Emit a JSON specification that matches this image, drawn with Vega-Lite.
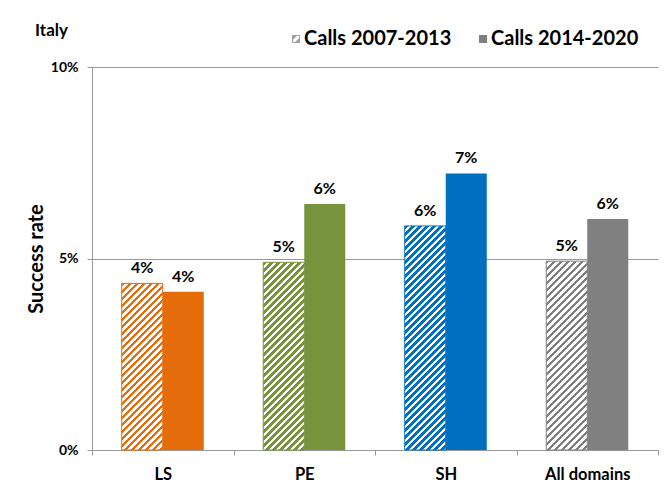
{
  "$schema": "https://vega.github.io/schema/vega-lite/v6.json",
  "width": 566,
  "height": 383,
  "autosize": {"type": "none"},
  "padding": {"left": 92, "top": 67, "right": 8, "bottom": 32},
  "background": "white",
  "config": {
    "font": "Lato",
    "view": {"stroke": null},
    "axis": {"labelFont": "Lato", "titleFont": "Lato"},
    "legend": {"labelFont": "Lato"}
  },
  "title": {"text": "Italy", "anchor": "start", "frame": "group", "fontSize": 17, "fontWeight": "bold", "color": "#000000", "font": "Lato", "dx": -57, "dy": 15},
  "data": {
    "values": [
      {"domain": "LS", "series": "Calls 2007-2013", "rate": 0.0435},
      {"domain": "LS", "series": "Calls 2014-2020", "rate": 0.0413},
      {"domain": "PE", "series": "Calls 2007-2013", "rate": 0.049},
      {"domain": "PE", "series": "Calls 2014-2020", "rate": 0.0642},
      {"domain": "SH", "series": "Calls 2007-2013", "rate": 0.0585},
      {"domain": "SH", "series": "Calls 2014-2020", "rate": 0.0722},
      {"domain": "All domains", "series": "Calls 2007-2013", "rate": 0.0493},
      {"domain": "All domains", "series": "Calls 2014-2020", "rate": 0.0603}
    ]
  },
  "encoding": {
    "x": {
      "field": "domain", "type": "nominal",
      "scale": {"domain": ["LS", "PE", "SH", "All domains"], "paddingInner": 0, "paddingOuter": 0},
      "axis": {"title": null, "labelAngle": 0, "labelFontSize": 16.5, "labelFontWeight": "bold", "labelColor": "#000000", "labelPadding": 11, "tickBand": "extent", "tickSize": 5, "tickColor": "#999999", "domainColor": "#999999"}
    },
    "xOffset": {
      "field": "series", "type": "nominal",
      "scale": {"domain": ["Calls 2007-2013", "Calls 2014-2020"], "paddingInner": 0, "paddingOuter": 0.7256}
    },
    "y": {
      "field": "rate", "type": "quantitative",
      "scale": {"domain": [0, 0.1], "nice": false},
      "axis": {"title": "Success rate", "values": [0, 0.05, 0.1], "format": ".0%", "grid": true, "gridColor": "#999999", "tickSize": 5, "tickColor": "#999999", "domainColor": "#999999", "labelFontSize": 14, "labelFontWeight": "bold", "labelColor": "#000000", "labelPadding": 9, "titleFontSize": 20, "titleFontWeight": "bold", "titleColor": "#000000", "titleX": -50, "titleY": 191.5, "titleBaseline": "alphabetic", "titleAlign": "center", "titleAngle": -90}
    }
  },
  "layer": [
    {
      "mark": {"type": "point", "filled": true, "opacity": 0, "size": 10, "yOffset": 20},
      "encoding": {
        "color": {
          "field": "series", "type": "nominal",
          "scale": {"domain": ["Calls 2007-2013", "Calls 2014-2020"], "range": ["#A0A0A0", "#7F7F7F"]},
          "legend": {
            "orient": "none", "legendX": 194, "legendY": -38, "direction": "horizontal", "title": null,
            "symbolType": "square", "symbolSize": 64, "labelFontSize": 20, "labelFontWeight": "bold", "labelColor": "#000000",
            "columnPadding": 21, "labelOffset": -2, "padding": 0, "symbolStrokeWidth": 0,
            "encode": {
              "symbols": {
                "update": {
                  "opacity": {"value": 1},
                  "shape": [
                    {"test": "datum.value === 'Calls 2007-2013'", "value": "M-1,-1H1V1H-1Z M-0.75,-0.75V0.75H0.75V-0.75Z M-1,-1L0.45,-1L-1,0.45Z M1,1L-0.45,1L1,-0.45Z"},
                    {"value": "square"}
                  ],
                  "fill": [
                    {"test": "datum.value === 'Calls 2007-2013'", "value": "#A0A0A0"},
                    {"value": "#7F7F7F"}
                  ],
                  "strokeWidth": {"value": 0}
                }
              }
            }
          }
        }
      }
    },
    {
      "transform": [{"filter": "datum.series === 'Calls 2014-2020'"}],
      "mark": {"type": "bar"},
      "encoding": {
        "fill": {
          "field": "domain", "type": "nominal",
          "scale": {"domain": ["LS", "PE", "SH", "All domains"], "range": ["#E46C0A", "#77933C", "#0070C0", "#808080"]},
          "legend": null
        }
      }
    },
    {
      "transform": [{"filter": "datum.series === 'Calls 2007-2013' && datum.domain === 'LS'"}],
      "mark": {"type": "bar", "stroke": "#E46C0A", "strokeWidth": 1, "fill": {"gradient": "linear", "x1": 0, "y1": 0, "x2": 0.390, "y2": 1.5847, "stops": [
        {"offset":0,"color":"#E46C0A"},{"offset":0.0125,"color":"#E46C0A"},{"offset":0.0125,"color":"#fff"},{"offset":0.025,"color":"#fff"},
        {"offset":0.025,"color":"#E46C0A"},{"offset":0.0375,"color":"#E46C0A"},{"offset":0.0375,"color":"#fff"},{"offset":0.05,"color":"#fff"},
        {"offset":0.05,"color":"#E46C0A"},{"offset":0.0625,"color":"#E46C0A"},{"offset":0.0625,"color":"#fff"},{"offset":0.075,"color":"#fff"},
        {"offset":0.075,"color":"#E46C0A"},{"offset":0.0875,"color":"#E46C0A"},{"offset":0.0875,"color":"#fff"},{"offset":0.1,"color":"#fff"},
        {"offset":0.1,"color":"#E46C0A"},{"offset":0.1125,"color":"#E46C0A"},{"offset":0.1125,"color":"#fff"},{"offset":0.125,"color":"#fff"},
        {"offset":0.125,"color":"#E46C0A"},{"offset":0.1375,"color":"#E46C0A"},{"offset":0.1375,"color":"#fff"},{"offset":0.15,"color":"#fff"},
        {"offset":0.15,"color":"#E46C0A"},{"offset":0.1625,"color":"#E46C0A"},{"offset":0.1625,"color":"#fff"},{"offset":0.175,"color":"#fff"},
        {"offset":0.175,"color":"#E46C0A"},{"offset":0.1875,"color":"#E46C0A"},{"offset":0.1875,"color":"#fff"},{"offset":0.2,"color":"#fff"},
        {"offset":0.2,"color":"#E46C0A"},{"offset":0.2125,"color":"#E46C0A"},{"offset":0.2125,"color":"#fff"},{"offset":0.225,"color":"#fff"},
        {"offset":0.225,"color":"#E46C0A"},{"offset":0.2375,"color":"#E46C0A"},{"offset":0.2375,"color":"#fff"},{"offset":0.25,"color":"#fff"},
        {"offset":0.25,"color":"#E46C0A"},{"offset":0.2625,"color":"#E46C0A"},{"offset":0.2625,"color":"#fff"},{"offset":0.275,"color":"#fff"},
        {"offset":0.275,"color":"#E46C0A"},{"offset":0.2875,"color":"#E46C0A"},{"offset":0.2875,"color":"#fff"},{"offset":0.3,"color":"#fff"},
        {"offset":0.3,"color":"#E46C0A"},{"offset":0.3125,"color":"#E46C0A"},{"offset":0.3125,"color":"#fff"},{"offset":0.325,"color":"#fff"},
        {"offset":0.325,"color":"#E46C0A"},{"offset":0.3375,"color":"#E46C0A"},{"offset":0.3375,"color":"#fff"},{"offset":0.35,"color":"#fff"},
        {"offset":0.35,"color":"#E46C0A"},{"offset":0.3625,"color":"#E46C0A"},{"offset":0.3625,"color":"#fff"},{"offset":0.375,"color":"#fff"},
        {"offset":0.375,"color":"#E46C0A"},{"offset":0.3875,"color":"#E46C0A"},{"offset":0.3875,"color":"#fff"},{"offset":0.4,"color":"#fff"},
        {"offset":0.4,"color":"#E46C0A"},{"offset":0.4125,"color":"#E46C0A"},{"offset":0.4125,"color":"#fff"},{"offset":0.425,"color":"#fff"},
        {"offset":0.425,"color":"#E46C0A"},{"offset":0.4375,"color":"#E46C0A"},{"offset":0.4375,"color":"#fff"},{"offset":0.45,"color":"#fff"},
        {"offset":0.45,"color":"#E46C0A"},{"offset":0.4625,"color":"#E46C0A"},{"offset":0.4625,"color":"#fff"},{"offset":0.475,"color":"#fff"},
        {"offset":0.475,"color":"#E46C0A"},{"offset":0.4875,"color":"#E46C0A"},{"offset":0.4875,"color":"#fff"},{"offset":0.5,"color":"#fff"},
        {"offset":0.5,"color":"#E46C0A"},{"offset":0.5125,"color":"#E46C0A"},{"offset":0.5125,"color":"#fff"},{"offset":0.525,"color":"#fff"},
        {"offset":0.525,"color":"#E46C0A"},{"offset":0.5375,"color":"#E46C0A"},{"offset":0.5375,"color":"#fff"},{"offset":0.55,"color":"#fff"},
        {"offset":0.55,"color":"#E46C0A"},{"offset":0.5625,"color":"#E46C0A"},{"offset":0.5625,"color":"#fff"},{"offset":0.575,"color":"#fff"},
        {"offset":0.575,"color":"#E46C0A"},{"offset":0.5875,"color":"#E46C0A"},{"offset":0.5875,"color":"#fff"},{"offset":0.6,"color":"#fff"},
        {"offset":0.6,"color":"#E46C0A"},{"offset":0.6125,"color":"#E46C0A"},{"offset":0.6125,"color":"#fff"},{"offset":0.625,"color":"#fff"},
        {"offset":0.625,"color":"#E46C0A"},{"offset":0.6375,"color":"#E46C0A"},{"offset":0.6375,"color":"#fff"},{"offset":0.65,"color":"#fff"},
        {"offset":0.65,"color":"#E46C0A"},{"offset":0.6625,"color":"#E46C0A"},{"offset":0.6625,"color":"#fff"},{"offset":0.675,"color":"#fff"},
        {"offset":0.675,"color":"#E46C0A"},{"offset":0.6875,"color":"#E46C0A"},{"offset":0.6875,"color":"#fff"},{"offset":0.7,"color":"#fff"},
        {"offset":0.7,"color":"#E46C0A"},{"offset":0.7125,"color":"#E46C0A"},{"offset":0.7125,"color":"#fff"},{"offset":0.725,"color":"#fff"},
        {"offset":0.725,"color":"#E46C0A"},{"offset":0.7375,"color":"#E46C0A"},{"offset":0.7375,"color":"#fff"},{"offset":0.75,"color":"#fff"},
        {"offset":0.75,"color":"#E46C0A"},{"offset":0.7625,"color":"#E46C0A"},{"offset":0.7625,"color":"#fff"},{"offset":0.775,"color":"#fff"}
      ]}}
    },
    {
      "transform": [{"filter": "datum.series === 'Calls 2007-2013' && datum.domain === 'PE'"}],
      "mark": {"type": "bar", "stroke": "#77933C", "strokeWidth": 1, "fill": {"gradient": "linear", "x1": 0, "y1": 0, "x2": 0.3110, "y2": 1.4238, "stops": [
        {"offset":0,"color":"#77933C"},{"offset":0.0125,"color":"#77933C"},{"offset":0.0125,"color":"#fff"},{"offset":0.025,"color":"#fff"},
        {"offset":0.025,"color":"#77933C"},{"offset":0.0375,"color":"#77933C"},{"offset":0.0375,"color":"#fff"},{"offset":0.05,"color":"#fff"},
        {"offset":0.05,"color":"#77933C"},{"offset":0.0625,"color":"#77933C"},{"offset":0.0625,"color":"#fff"},{"offset":0.075,"color":"#fff"},
        {"offset":0.075,"color":"#77933C"},{"offset":0.0875,"color":"#77933C"},{"offset":0.0875,"color":"#fff"},{"offset":0.1,"color":"#fff"},
        {"offset":0.1,"color":"#77933C"},{"offset":0.1125,"color":"#77933C"},{"offset":0.1125,"color":"#fff"},{"offset":0.125,"color":"#fff"},
        {"offset":0.125,"color":"#77933C"},{"offset":0.1375,"color":"#77933C"},{"offset":0.1375,"color":"#fff"},{"offset":0.15,"color":"#fff"},
        {"offset":0.15,"color":"#77933C"},{"offset":0.1625,"color":"#77933C"},{"offset":0.1625,"color":"#fff"},{"offset":0.175,"color":"#fff"},
        {"offset":0.175,"color":"#77933C"},{"offset":0.1875,"color":"#77933C"},{"offset":0.1875,"color":"#fff"},{"offset":0.2,"color":"#fff"},
        {"offset":0.2,"color":"#77933C"},{"offset":0.2125,"color":"#77933C"},{"offset":0.2125,"color":"#fff"},{"offset":0.225,"color":"#fff"},
        {"offset":0.225,"color":"#77933C"},{"offset":0.2375,"color":"#77933C"},{"offset":0.2375,"color":"#fff"},{"offset":0.25,"color":"#fff"},
        {"offset":0.25,"color":"#77933C"},{"offset":0.2625,"color":"#77933C"},{"offset":0.2625,"color":"#fff"},{"offset":0.275,"color":"#fff"},
        {"offset":0.275,"color":"#77933C"},{"offset":0.2875,"color":"#77933C"},{"offset":0.2875,"color":"#fff"},{"offset":0.3,"color":"#fff"},
        {"offset":0.3,"color":"#77933C"},{"offset":0.3125,"color":"#77933C"},{"offset":0.3125,"color":"#fff"},{"offset":0.325,"color":"#fff"},
        {"offset":0.325,"color":"#77933C"},{"offset":0.3375,"color":"#77933C"},{"offset":0.3375,"color":"#fff"},{"offset":0.35,"color":"#fff"},
        {"offset":0.35,"color":"#77933C"},{"offset":0.3625,"color":"#77933C"},{"offset":0.3625,"color":"#fff"},{"offset":0.375,"color":"#fff"},
        {"offset":0.375,"color":"#77933C"},{"offset":0.3875,"color":"#77933C"},{"offset":0.3875,"color":"#fff"},{"offset":0.4,"color":"#fff"},
        {"offset":0.4,"color":"#77933C"},{"offset":0.4125,"color":"#77933C"},{"offset":0.4125,"color":"#fff"},{"offset":0.425,"color":"#fff"},
        {"offset":0.425,"color":"#77933C"},{"offset":0.4375,"color":"#77933C"},{"offset":0.4375,"color":"#fff"},{"offset":0.45,"color":"#fff"},
        {"offset":0.45,"color":"#77933C"},{"offset":0.4625,"color":"#77933C"},{"offset":0.4625,"color":"#fff"},{"offset":0.475,"color":"#fff"},
        {"offset":0.475,"color":"#77933C"},{"offset":0.4875,"color":"#77933C"},{"offset":0.4875,"color":"#fff"},{"offset":0.5,"color":"#fff"},
        {"offset":0.5,"color":"#77933C"},{"offset":0.5125,"color":"#77933C"},{"offset":0.5125,"color":"#fff"},{"offset":0.525,"color":"#fff"},
        {"offset":0.525,"color":"#77933C"},{"offset":0.5375,"color":"#77933C"},{"offset":0.5375,"color":"#fff"},{"offset":0.55,"color":"#fff"},
        {"offset":0.55,"color":"#77933C"},{"offset":0.5625,"color":"#77933C"},{"offset":0.5625,"color":"#fff"},{"offset":0.575,"color":"#fff"},
        {"offset":0.575,"color":"#77933C"},{"offset":0.5875,"color":"#77933C"},{"offset":0.5875,"color":"#fff"},{"offset":0.6,"color":"#fff"},
        {"offset":0.6,"color":"#77933C"},{"offset":0.6125,"color":"#77933C"},{"offset":0.6125,"color":"#fff"},{"offset":0.625,"color":"#fff"},
        {"offset":0.625,"color":"#77933C"},{"offset":0.6375,"color":"#77933C"},{"offset":0.6375,"color":"#fff"},{"offset":0.65,"color":"#fff"},
        {"offset":0.65,"color":"#77933C"},{"offset":0.6625,"color":"#77933C"},{"offset":0.6625,"color":"#fff"},{"offset":0.675,"color":"#fff"},
        {"offset":0.675,"color":"#77933C"},{"offset":0.6875,"color":"#77933C"},{"offset":0.6875,"color":"#fff"},{"offset":0.7,"color":"#fff"},
        {"offset":0.7,"color":"#77933C"},{"offset":0.7125,"color":"#77933C"},{"offset":0.7125,"color":"#fff"},{"offset":0.725,"color":"#fff"},
        {"offset":0.725,"color":"#77933C"},{"offset":0.7375,"color":"#77933C"},{"offset":0.7375,"color":"#fff"},{"offset":0.75,"color":"#fff"},
        {"offset":0.75,"color":"#77933C"},{"offset":0.7625,"color":"#77933C"},{"offset":0.7625,"color":"#fff"},{"offset":0.775,"color":"#fff"},
        {"offset":0.775,"color":"#77933C"},{"offset":0.7875,"color":"#77933C"},{"offset":0.7875,"color":"#fff"},{"offset":0.8,"color":"#fff"},
        {"offset":0.8,"color":"#77933C"},{"offset":0.8125,"color":"#77933C"},{"offset":0.8125,"color":"#fff"},{"offset":0.825,"color":"#fff"},
        {"offset":0.825,"color":"#77933C"},{"offset":0.8375,"color":"#77933C"},{"offset":0.8375,"color":"#fff"},{"offset":0.85,"color":"#fff"}
      ]}}
    },
    {
      "transform": [{"filter": "datum.series === 'Calls 2007-2013' && datum.domain === 'SH'"}],
      "mark": {"type": "bar", "stroke": "#0070C0", "strokeWidth": 1, "fill": {"gradient": "linear", "x1": 0, "y1": 0, "x2": 0.2212, "y2": 1.2090, "stops": [
        {"offset":0,"color":"#0070C0"},{"offset":0.0125,"color":"#0070C0"},{"offset":0.0125,"color":"#fff"},{"offset":0.025,"color":"#fff"},
        {"offset":0.025,"color":"#0070C0"},{"offset":0.0375,"color":"#0070C0"},{"offset":0.0375,"color":"#fff"},{"offset":0.05,"color":"#fff"},
        {"offset":0.05,"color":"#0070C0"},{"offset":0.0625,"color":"#0070C0"},{"offset":0.0625,"color":"#fff"},{"offset":0.075,"color":"#fff"},
        {"offset":0.075,"color":"#0070C0"},{"offset":0.0875,"color":"#0070C0"},{"offset":0.0875,"color":"#fff"},{"offset":0.1,"color":"#fff"},
        {"offset":0.1,"color":"#0070C0"},{"offset":0.1125,"color":"#0070C0"},{"offset":0.1125,"color":"#fff"},{"offset":0.125,"color":"#fff"},
        {"offset":0.125,"color":"#0070C0"},{"offset":0.1375,"color":"#0070C0"},{"offset":0.1375,"color":"#fff"},{"offset":0.15,"color":"#fff"},
        {"offset":0.15,"color":"#0070C0"},{"offset":0.1625,"color":"#0070C0"},{"offset":0.1625,"color":"#fff"},{"offset":0.175,"color":"#fff"},
        {"offset":0.175,"color":"#0070C0"},{"offset":0.1875,"color":"#0070C0"},{"offset":0.1875,"color":"#fff"},{"offset":0.2,"color":"#fff"},
        {"offset":0.2,"color":"#0070C0"},{"offset":0.2125,"color":"#0070C0"},{"offset":0.2125,"color":"#fff"},{"offset":0.225,"color":"#fff"},
        {"offset":0.225,"color":"#0070C0"},{"offset":0.2375,"color":"#0070C0"},{"offset":0.2375,"color":"#fff"},{"offset":0.25,"color":"#fff"},
        {"offset":0.25,"color":"#0070C0"},{"offset":0.2625,"color":"#0070C0"},{"offset":0.2625,"color":"#fff"},{"offset":0.275,"color":"#fff"},
        {"offset":0.275,"color":"#0070C0"},{"offset":0.2875,"color":"#0070C0"},{"offset":0.2875,"color":"#fff"},{"offset":0.3,"color":"#fff"},
        {"offset":0.3,"color":"#0070C0"},{"offset":0.3125,"color":"#0070C0"},{"offset":0.3125,"color":"#fff"},{"offset":0.325,"color":"#fff"},
        {"offset":0.325,"color":"#0070C0"},{"offset":0.3375,"color":"#0070C0"},{"offset":0.3375,"color":"#fff"},{"offset":0.35,"color":"#fff"},
        {"offset":0.35,"color":"#0070C0"},{"offset":0.3625,"color":"#0070C0"},{"offset":0.3625,"color":"#fff"},{"offset":0.375,"color":"#fff"},
        {"offset":0.375,"color":"#0070C0"},{"offset":0.3875,"color":"#0070C0"},{"offset":0.3875,"color":"#fff"},{"offset":0.4,"color":"#fff"},
        {"offset":0.4,"color":"#0070C0"},{"offset":0.4125,"color":"#0070C0"},{"offset":0.4125,"color":"#fff"},{"offset":0.425,"color":"#fff"},
        {"offset":0.425,"color":"#0070C0"},{"offset":0.4375,"color":"#0070C0"},{"offset":0.4375,"color":"#fff"},{"offset":0.45,"color":"#fff"},
        {"offset":0.45,"color":"#0070C0"},{"offset":0.4625,"color":"#0070C0"},{"offset":0.4625,"color":"#fff"},{"offset":0.475,"color":"#fff"},
        {"offset":0.475,"color":"#0070C0"},{"offset":0.4875,"color":"#0070C0"},{"offset":0.4875,"color":"#fff"},{"offset":0.5,"color":"#fff"},
        {"offset":0.5,"color":"#0070C0"},{"offset":0.5125,"color":"#0070C0"},{"offset":0.5125,"color":"#fff"},{"offset":0.525,"color":"#fff"},
        {"offset":0.525,"color":"#0070C0"},{"offset":0.5375,"color":"#0070C0"},{"offset":0.5375,"color":"#fff"},{"offset":0.55,"color":"#fff"},
        {"offset":0.55,"color":"#0070C0"},{"offset":0.5625,"color":"#0070C0"},{"offset":0.5625,"color":"#fff"},{"offset":0.575,"color":"#fff"},
        {"offset":0.575,"color":"#0070C0"},{"offset":0.5875,"color":"#0070C0"},{"offset":0.5875,"color":"#fff"},{"offset":0.6,"color":"#fff"},
        {"offset":0.6,"color":"#0070C0"},{"offset":0.6125,"color":"#0070C0"},{"offset":0.6125,"color":"#fff"},{"offset":0.625,"color":"#fff"},
        {"offset":0.625,"color":"#0070C0"},{"offset":0.6375,"color":"#0070C0"},{"offset":0.6375,"color":"#fff"},{"offset":0.65,"color":"#fff"},
        {"offset":0.65,"color":"#0070C0"},{"offset":0.6625,"color":"#0070C0"},{"offset":0.6625,"color":"#fff"},{"offset":0.675,"color":"#fff"},
        {"offset":0.675,"color":"#0070C0"},{"offset":0.6875,"color":"#0070C0"},{"offset":0.6875,"color":"#fff"},{"offset":0.7,"color":"#fff"},
        {"offset":0.7,"color":"#0070C0"},{"offset":0.7125,"color":"#0070C0"},{"offset":0.7125,"color":"#fff"},{"offset":0.725,"color":"#fff"},
        {"offset":0.725,"color":"#0070C0"},{"offset":0.7375,"color":"#0070C0"},{"offset":0.7375,"color":"#fff"},{"offset":0.75,"color":"#fff"},
        {"offset":0.75,"color":"#0070C0"},{"offset":0.7625,"color":"#0070C0"},{"offset":0.7625,"color":"#fff"},{"offset":0.775,"color":"#fff"},
        {"offset":0.775,"color":"#0070C0"},{"offset":0.7875,"color":"#0070C0"},{"offset":0.7875,"color":"#fff"},{"offset":0.8,"color":"#fff"},
        {"offset":0.8,"color":"#0070C0"},{"offset":0.8125,"color":"#0070C0"},{"offset":0.8125,"color":"#fff"},{"offset":0.825,"color":"#fff"},
        {"offset":0.825,"color":"#0070C0"},{"offset":0.8375,"color":"#0070C0"},{"offset":0.8375,"color":"#fff"},{"offset":0.85,"color":"#fff"},
        {"offset":0.85,"color":"#0070C0"},{"offset":0.8625,"color":"#0070C0"},{"offset":0.8625,"color":"#fff"},{"offset":0.875,"color":"#fff"},
        {"offset":0.875,"color":"#0070C0"},{"offset":0.8875,"color":"#0070C0"},{"offset":0.8875,"color":"#fff"},{"offset":0.9,"color":"#fff"},
        {"offset":0.9,"color":"#0070C0"},{"offset":0.9125,"color":"#0070C0"},{"offset":0.9125,"color":"#fff"},{"offset":0.925,"color":"#fff"},
        {"offset":0.925,"color":"#0070C0"},{"offset":0.9375,"color":"#0070C0"},{"offset":0.9375,"color":"#fff"},{"offset":0.95,"color":"#fff"},
        {"offset":0.95,"color":"#0070C0"},{"offset":0.9625,"color":"#0070C0"},{"offset":0.9625,"color":"#fff"},{"offset":0.975,"color":"#fff"}
      ]}}
    },
    {
      "transform": [{"filter": "datum.series === 'Calls 2007-2013' && datum.domain === 'All domains'"}],
      "mark": {"type": "bar", "stroke": "#808080", "strokeWidth": 1, "fill": {"gradient": "linear", "x1": 0, "y1": 0, "x2": 0.3076, "y2": 1.4163, "stops": [
        {"offset":0,"color":"#808080"},{"offset":0.0125,"color":"#808080"},{"offset":0.0125,"color":"#fff"},{"offset":0.025,"color":"#fff"},
        {"offset":0.025,"color":"#808080"},{"offset":0.0375,"color":"#808080"},{"offset":0.0375,"color":"#fff"},{"offset":0.05,"color":"#fff"},
        {"offset":0.05,"color":"#808080"},{"offset":0.0625,"color":"#808080"},{"offset":0.0625,"color":"#fff"},{"offset":0.075,"color":"#fff"},
        {"offset":0.075,"color":"#808080"},{"offset":0.0875,"color":"#808080"},{"offset":0.0875,"color":"#fff"},{"offset":0.1,"color":"#fff"},
        {"offset":0.1,"color":"#808080"},{"offset":0.1125,"color":"#808080"},{"offset":0.1125,"color":"#fff"},{"offset":0.125,"color":"#fff"},
        {"offset":0.125,"color":"#808080"},{"offset":0.1375,"color":"#808080"},{"offset":0.1375,"color":"#fff"},{"offset":0.15,"color":"#fff"},
        {"offset":0.15,"color":"#808080"},{"offset":0.1625,"color":"#808080"},{"offset":0.1625,"color":"#fff"},{"offset":0.175,"color":"#fff"},
        {"offset":0.175,"color":"#808080"},{"offset":0.1875,"color":"#808080"},{"offset":0.1875,"color":"#fff"},{"offset":0.2,"color":"#fff"},
        {"offset":0.2,"color":"#808080"},{"offset":0.2125,"color":"#808080"},{"offset":0.2125,"color":"#fff"},{"offset":0.225,"color":"#fff"},
        {"offset":0.225,"color":"#808080"},{"offset":0.2375,"color":"#808080"},{"offset":0.2375,"color":"#fff"},{"offset":0.25,"color":"#fff"},
        {"offset":0.25,"color":"#808080"},{"offset":0.2625,"color":"#808080"},{"offset":0.2625,"color":"#fff"},{"offset":0.275,"color":"#fff"},
        {"offset":0.275,"color":"#808080"},{"offset":0.2875,"color":"#808080"},{"offset":0.2875,"color":"#fff"},{"offset":0.3,"color":"#fff"},
        {"offset":0.3,"color":"#808080"},{"offset":0.3125,"color":"#808080"},{"offset":0.3125,"color":"#fff"},{"offset":0.325,"color":"#fff"},
        {"offset":0.325,"color":"#808080"},{"offset":0.3375,"color":"#808080"},{"offset":0.3375,"color":"#fff"},{"offset":0.35,"color":"#fff"},
        {"offset":0.35,"color":"#808080"},{"offset":0.3625,"color":"#808080"},{"offset":0.3625,"color":"#fff"},{"offset":0.375,"color":"#fff"},
        {"offset":0.375,"color":"#808080"},{"offset":0.3875,"color":"#808080"},{"offset":0.3875,"color":"#fff"},{"offset":0.4,"color":"#fff"},
        {"offset":0.4,"color":"#808080"},{"offset":0.4125,"color":"#808080"},{"offset":0.4125,"color":"#fff"},{"offset":0.425,"color":"#fff"},
        {"offset":0.425,"color":"#808080"},{"offset":0.4375,"color":"#808080"},{"offset":0.4375,"color":"#fff"},{"offset":0.45,"color":"#fff"},
        {"offset":0.45,"color":"#808080"},{"offset":0.4625,"color":"#808080"},{"offset":0.4625,"color":"#fff"},{"offset":0.475,"color":"#fff"},
        {"offset":0.475,"color":"#808080"},{"offset":0.4875,"color":"#808080"},{"offset":0.4875,"color":"#fff"},{"offset":0.5,"color":"#fff"},
        {"offset":0.5,"color":"#808080"},{"offset":0.5125,"color":"#808080"},{"offset":0.5125,"color":"#fff"},{"offset":0.525,"color":"#fff"},
        {"offset":0.525,"color":"#808080"},{"offset":0.5375,"color":"#808080"},{"offset":0.5375,"color":"#fff"},{"offset":0.55,"color":"#fff"},
        {"offset":0.55,"color":"#808080"},{"offset":0.5625,"color":"#808080"},{"offset":0.5625,"color":"#fff"},{"offset":0.575,"color":"#fff"},
        {"offset":0.575,"color":"#808080"},{"offset":0.5875,"color":"#808080"},{"offset":0.5875,"color":"#fff"},{"offset":0.6,"color":"#fff"},
        {"offset":0.6,"color":"#808080"},{"offset":0.6125,"color":"#808080"},{"offset":0.6125,"color":"#fff"},{"offset":0.625,"color":"#fff"},
        {"offset":0.625,"color":"#808080"},{"offset":0.6375,"color":"#808080"},{"offset":0.6375,"color":"#fff"},{"offset":0.65,"color":"#fff"},
        {"offset":0.65,"color":"#808080"},{"offset":0.6625,"color":"#808080"},{"offset":0.6625,"color":"#fff"},{"offset":0.675,"color":"#fff"},
        {"offset":0.675,"color":"#808080"},{"offset":0.6875,"color":"#808080"},{"offset":0.6875,"color":"#fff"},{"offset":0.7,"color":"#fff"},
        {"offset":0.7,"color":"#808080"},{"offset":0.7125,"color":"#808080"},{"offset":0.7125,"color":"#fff"},{"offset":0.725,"color":"#fff"},
        {"offset":0.725,"color":"#808080"},{"offset":0.7375,"color":"#808080"},{"offset":0.7375,"color":"#fff"},{"offset":0.75,"color":"#fff"},
        {"offset":0.75,"color":"#808080"},{"offset":0.7625,"color":"#808080"},{"offset":0.7625,"color":"#fff"},{"offset":0.775,"color":"#fff"},
        {"offset":0.775,"color":"#808080"},{"offset":0.7875,"color":"#808080"},{"offset":0.7875,"color":"#fff"},{"offset":0.8,"color":"#fff"},
        {"offset":0.8,"color":"#808080"},{"offset":0.8125,"color":"#808080"},{"offset":0.8125,"color":"#fff"},{"offset":0.825,"color":"#fff"},
        {"offset":0.825,"color":"#808080"},{"offset":0.8375,"color":"#808080"},{"offset":0.8375,"color":"#fff"},{"offset":0.85,"color":"#fff"}
      ]}}
    },
    {
      "mark": {"type": "text", "dy": -10, "baseline": "alphabetic", "fontSize": 16, "fontWeight": "bold", "font": "Lato", "color": "#000000"},
      "encoding": {
        "text": {"field": "rate", "type": "quantitative", "format": ".0%"}
      }
    }
  ]
}
